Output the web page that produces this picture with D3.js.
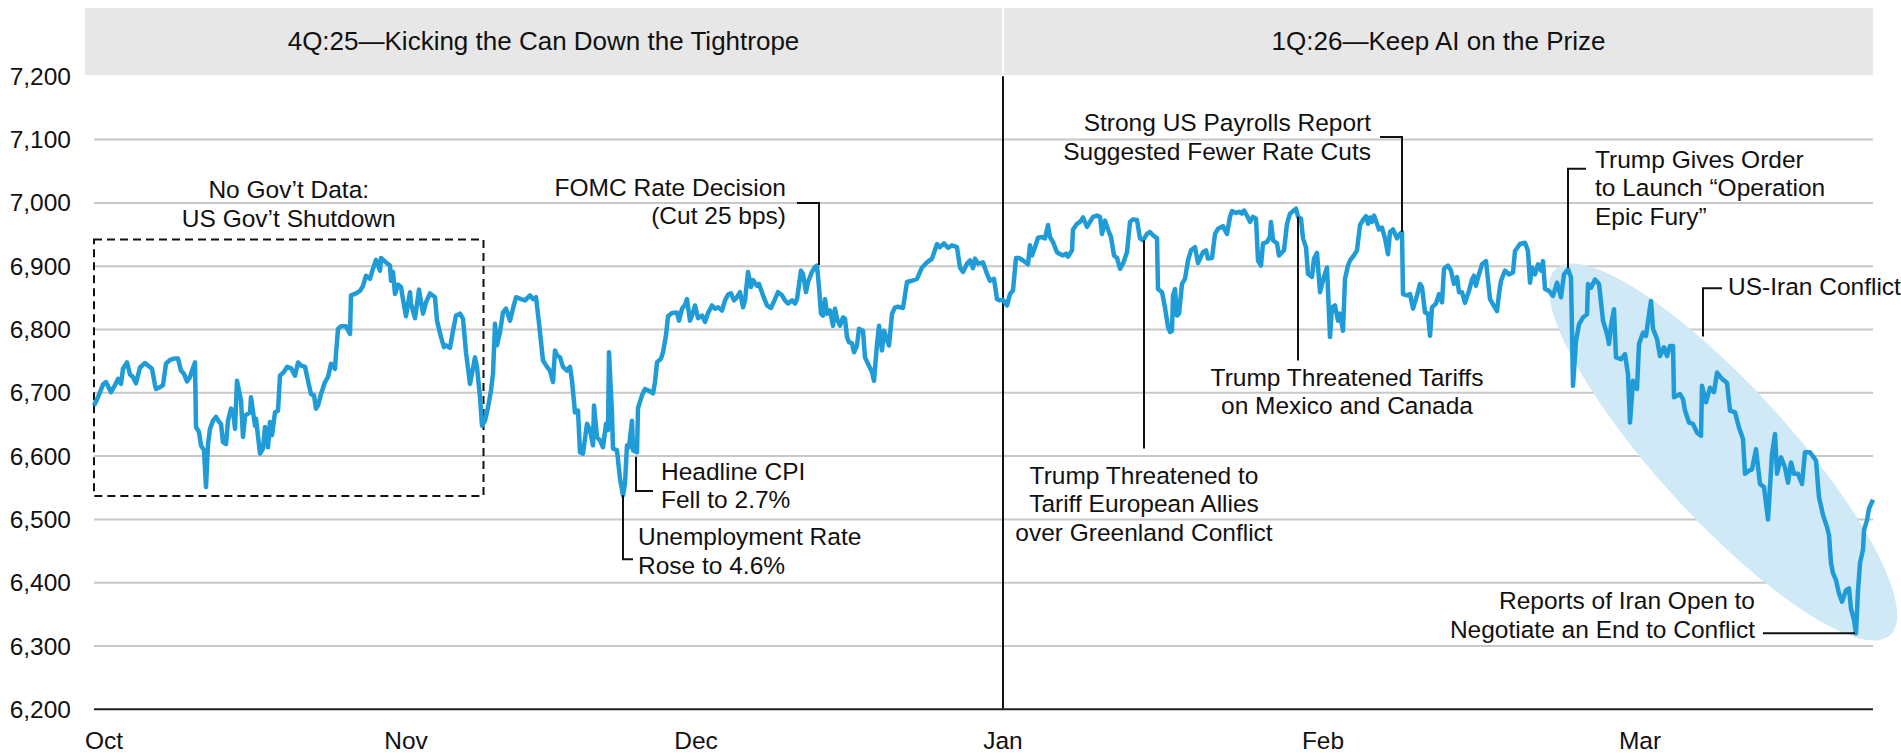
<!DOCTYPE html>
<html>
<head>
<meta charset="utf-8">
<script src="https://cdn.jsdelivr.net/npm/d3@7"></script>
<style>
  html, body { margin: 0; padding: 0; background: #fff; }
  svg { display: block; font-family: "Liberation Sans", Arial, sans-serif; }
</style>
</head>
<body>
<svg id="chart" width="1901" height="753"></svg>
<script>
// observation position (approx. days after 30 Sep 2025) and index level
const obsT = [
  0.0,0.4,0.9,1.2,1.7,2.1,2.4,2.7,2.9,3.3,3.6,3.9,4.2,4.6,5.1,5.4,5.8,6.1,6.2,6.6,6.9,7.2,7.6,8.0,8.4,8.7,9.0,9.3,9.6,9.8,
  10.1,10.2,10.5,10.7,11.0,11.2,11.4,11.6,11.9,12.2,12.5,12.7,12.9,13.2,13.4,13.7,13.9,14.1,14.3,14.7,14.9,15.1,15.6,15.7,16.1,16.2,16.6,16.9,17.1,17.4,
  17.6,17.8,18.1,18.4,18.6,19.0,19.3,19.7,20.1,20.4,20.7,21.1,21.4,21.7,22.0,22.2,22.4,22.7,23.1,23.4,23.7,24.1,24.2,24.4,24.7,25.2,25.6,25.7,26.2,26.6,
  26.9,27.2,27.6,27.9,28.2,28.6,28.7,29.2,29.6,29.7,29.9,30.1,30.4,30.7,31.0,31.2,31.6,31.7,32.1,32.5,32.9,33.2,33.6,34.1,34.3,34.7,35.0,35.2,35.6,35.9,
  36.2,36.6,36.9,37.2,37.6,37.7,38.1,38.3,38.6,38.8,39.1,39.4,39.7,39.9,40.1,40.3,40.6,40.9,41.2,41.6,41.9,42.2,42.7,43.1,43.6,43.9,44.2,44.5,44.9,45.3,
  45.6,45.9,46.1,46.3,46.6,46.9,47.3,47.6,47.8,48.1,48.4,48.6,48.9,49.3,49.6,49.9,50.0,50.3,50.6,50.9,51.2,51.4,51.5,51.8,51.9,52.3,52.6,52.9,53.1,53.3,
  53.5,53.8,53.9,54.3,54.4,54.8,55.1,55.4,55.9,56.1,56.3,56.7,56.9,57.2,57.4,57.8,58.3,58.5,58.8,59.1,59.3,59.6,59.9,60.1,60.4,60.8,61.1,61.4,61.8,62.1,
  62.4,62.8,63.1,63.4,63.7,64.0,64.3,64.6,64.9,65.1,65.4,65.7,65.9,66.3,66.5,66.9,67.3,67.7,68.1,68.4,68.8,69.1,69.4,69.8,70.1,70.3,70.7,70.9,71.2,71.4,
  71.8,72.1,72.3,72.5,72.7,72.9,73.1,73.3,73.6,73.9,74.1,74.3,74.6,74.9,75.1,75.3,75.5,75.8,76.0,76.3,76.5,76.9,77.1,77.4,77.8,78.0,78.3,78.5,78.8,79.0,
  79.3,79.5,79.8,80.1,80.4,80.9,81.3,81.8,82.3,82.8,83.3,83.8,84.3,84.6,85.0,85.4,85.8,86.3,86.6,86.9,87.3,87.6,87.9,88.1,88.4,88.9,89.3,89.6,90.0,90.3,
  90.6,90.9,91.3,91.6,91.9,92.2,92.5,92.9,93.4,93.6,93.8,94.1,94.4,94.8,95.1,95.4,95.6,95.9,96.3,96.6,96.9,97.2,97.4,97.8,97.9,98.3,98.6,98.9,99.3,99.6,
  99.9,100.3,100.6,100.8,101.1,101.4,101.7,102.0,102.3,102.6,102.9,103.3,103.6,103.9,104.3,104.6,104.9,105.3,105.6,105.9,106.3,106.4,106.8,107.1,107.4,107.6,107.8,107.9,108.1,108.3,
  108.5,108.8,109.1,109.4,109.7,110.1,110.4,110.6,110.9,111.2,111.4,111.8,112.1,112.4,112.9,113.3,113.6,113.8,114.2,114.5,114.8,115.0,115.3,115.6,115.9,116.2,116.4,116.7,116.9,117.3,
  117.6,117.7,117.9,118.3,118.5,118.8,119.0,119.3,119.6,119.9,120.2,120.4,120.7,120.9,121.2,121.4,121.8,122.0,122.3,122.6,122.9,123.3,123.6,123.8,124.1,124.4,124.6,124.9,125.1,125.4,
  125.6,125.9,126.3,126.6,126.9,127.2,127.4,127.6,127.8,128.0,128.3,128.5,128.8,129.1,129.4,129.6,129.9,130.3,130.6,130.8,130.9,131.3,131.6,131.9,132.3,132.6,132.8,133.1,133.4,133.6,
  133.8,134.2,134.5,134.8,135.0,135.4,135.7,136.0,136.3,136.5,136.8,137.1,137.5,137.8,138.0,138.2,138.4,138.8,139.2,139.6,140.0,140.3,140.5,140.7,141.1,141.5,141.9,142.1,142.6,143.1,
  143.4,143.6,143.8,144.1,144.4,144.7,144.9,145.1,145.5,145.9,146.3,146.7,147.0,147.4,147.7,147.9,148.2,148.5,148.9,149.3,149.4,149.7,150.1,150.5,150.9,151.3,151.5,151.7,152.0,152.2,
  152.7,153.1,153.4,153.6,153.9,154.3,154.5,154.9,155.2,155.5,155.7,155.9,156.3,156.6,157.0,157.3,157.6,157.9,158.0,158.6,158.9,159.1,159.5,159.9,160.3,160.7,160.8,161.2,161.6,162.0,
  162.3,162.8,163.3,163.6,164.1,164.5,164.9,165.1,165.5,165.8,166.2,166.6,167.0,167.4,167.8,168.1,168.3,168.7,169.1,169.4,169.7,170.0,170.4,170.8,171.1,171.6,172.2,172.5,172.9,173.3,
  173.5,173.7,173.9,174.2,174.5,174.8,175.2,175.5,175.7,176.0,176.2,176.4,176.6,176.9,177.0,177.3,177.5,177.9
];
const spx = [
  6680,6693,6713,6717,6701,6712,6722,6714,6738,6748,6729,6725,6715,6740,6747,6743,6738,6712,6706,6709,6712,6746,6752,6754,6754,6735,6730,6718,6725,6735,
  6748,6646,6638,6617,6609,6551,6619,6643,6656,6662,6654,6651,6622,6619,6656,6675,6672,6643,6719,6688,6630,6664,6669,6693,6648,6659,6604,6612,6646,6614,
  6654,6633,6669,6672,6727,6733,6741,6739,6727,6748,6743,6741,6719,6698,6696,6675,6680,6698,6717,6725,6746,6738,6762,6801,6805,6805,6793,6854,6857,6861,
  6869,6885,6880,6896,6910,6893,6913,6906,6901,6877,6891,6856,6871,6867,6838,6821,6859,6841,6818,6863,6825,6843,6857,6851,6814,6788,6772,6775,6771,6798,
  6822,6825,6817,6764,6714,6722,6756,6741,6693,6648,6656,6677,6704,6730,6809,6775,6796,6827,6833,6814,6833,6851,6848,6846,6854,6848,6851,6810,6751,6741,
  6735,6717,6767,6759,6756,6741,6735,6741,6719,6669,6672,6606,6604,6651,6641,6617,6680,6630,6625,6614,6651,6641,6764,6667,6612,6609,6564,6538,6557,6617,
  6614,6656,6609,6606,6676,6696,6706,6704,6699,6717,6748,6754,6764,6791,6821,6826,6827,6814,6833,6839,6848,6814,6827,6838,6818,6822,6812,6826,6838,6833,
  6835,6830,6846,6855,6857,6846,6851,6859,6835,6846,6891,6867,6878,6869,6872,6854,6838,6834,6848,6859,6854,6846,6841,6846,6841,6848,6893,6888,6859,6875,
  6891,6899,6901,6867,6825,6822,6848,6825,6830,6806,6833,6817,6806,6819,6817,6788,6780,6778,6764,6775,6801,6798,6756,6746,6733,6719,6777,6806,6767,6798,
  6783,6775,6825,6835,6836,6834,6875,6877,6880,6898,6906,6912,6935,6930,6936,6929,6933,6930,6898,6891,6904,6909,6897,6912,6904,6906,6888,6877,6880,6848,
  6846,6847,6838,6856,6862,6913,6913,6909,6903,6933,6917,6930,6945,6946,6944,6965,6946,6938,6922,6919,6917,6920,6915,6925,6958,6967,6970,6977,6962,6970,
  6978,6980,6978,6951,6972,6958,6946,6917,6913,6896,6904,6922,6970,6974,6973,6944,6941,6951,6954,6949,6944,6864,6859,6835,6804,6796,6798,6854,6864,6822,
  6825,6872,6880,6909,6925,6930,6905,6912,6922,6925,6912,6913,6951,6959,6963,6951,6978,6987,6984,6986,6983,6988,6980,6970,6978,6975,6909,6901,6936,6938,
  6947,6970,6941,6936,6917,6922,6925,6967,6983,6987,6991,6978,6975,6944,6930,6888,6883,6912,6921,6859,6878,6898,6788,6835,6838,6814,6825,6798,6880,6901,
  6909,6915,6925,6965,6973,6979,6967,6977,6970,6980,6967,6958,6961,6944,6919,6954,6958,6944,6951,6954,6856,6854,6856,6833,6854,6872,6867,6827,6825,6790,
  6835,6841,6856,6843,6896,6901,6893,6872,6883,6859,6859,6842,6861,6879,6885,6869,6882,6903,6908,6848,6837,6829,6856,6877,6893,6887,6890,6924,6935,6937,
  6924,6874,6898,6887,6903,6893,6908,6864,6861,6853,6874,6851,6887,6895,6882,6711,6782,6808,6819,6824,6872,6866,6879,6872,6814,6793,6777,6806,6832,6756,
  6753,6761,6729,6653,6719,6706,6777,6795,6790,6824,6845,6801,6785,6758,6772,6758,6774,6774,6693,6698,6690,6672,6653,6651,6637,6632,6711,6685,6708,6701,
  6732,6722,6716,6672,6669,6645,6627,6572,6577,6579,6611,6556,6551,6500,6603,6635,6572,6598,6582,6558,6590,6572,6572,6556,6606,6606,6593,6535,6507,6488,
  6475,6431,6415,6404,6383,6370,6388,6391,6359,6341,6320,6388,6431,6452,6483,6499,6517,6531
];

const yTicks = [6200, 6300, 6400, 6500, 6600, 6700, 6800, 6900, 7000, 7100, 7200];
const monthLabels = ["Oct", "Nov", "Dec", "Jan", "Feb", "Mar"];
const monthT = [1.0, 31.2, 60.2, 90.9, 122.9, 154.6];
const periodLabels = ["4Q:25\u2014Kicking the Can Down the Tightrope", "1Q:26\u2014Keep AI on the Prize"];
const periodStart = [-0.9, 90.9];
const periodEnd = [90.9, 177.9];

// annotations: leader path in data units, text offset (px) from the first path point
const notes = [
  { lines: ["FOMC Rate Decision", "(Cut 25 bps)"], path: [[70.3, 7000], [72.5, 7000], [72.5, 6902]], anchor: "end", dx: -11, dy: -7 },
  { lines: ["Headline CPI", "Fell to 2.7%"], path: [[55.9, 6545], [54.2, 6545], [54.2, 6599]], anchor: "start", dx: 8, dy: -11 },
  { lines: ["Unemployment Rate", "Rose to 4.6%"], path: [[53.9, 6437], [52.9, 6437], [52.9, 6538]], anchor: "start", dx: 5, dy: -14 },
  { lines: ["Trump Threatened to", "Tariff European Allies", "over Greenland Conflict"], path: [[105.0, 6612], [105.0, 6941]], anchor: "middle", dx: 0, dy: 35 },
  { lines: ["Trump Threatened Tariffs", "on Mexico and Canada"], path: [[120.4, 6751], [120.4, 6978]], anchor: "middle", dx: 49, dy: 25 },
  { lines: ["Strong US Payrolls Report", "Suggested Fewer Rate Cuts"], path: [[128.6, 7104], [130.8, 7104], [130.8, 6954]], anchor: "end", dx: -9, dy: -6 },
  { lines: ["Trump Gives Order", "to Launch \u201cOperation", "Epic Fury\u201d"], path: [[149.2, 7054], [147.4, 7054], [147.4, 6897]], anchor: "start", dx: 9, dy: -1 },
  { lines: ["US-Iran Conflict"], path: [[162.8, 6865], [160.9, 6865], [160.9, 6789]], anchor: "start", dx: 6, dy: 7 },
  { lines: ["Reports of Iran Open to", "Negotiate an End to Conflict"], path: [[166.9, 6320], [176.1, 6320]], anchor: "end", dx: -8, dy: -24 }
];

const svg = d3.select("#chart");
const x = d3.scaleLinear().domain([0, 177.9]).range([94, 1873]);
const y = d3.scaleLinear().domain([6200, 7200]).range([709.3, 76.3]);

const blue = "#1f9bd7";
const fontSize = 24.5;

// period header bands
const bands = svg.append("g");
periodLabels.forEach(function(label, i) {
  const x0 = x(periodStart[i]) + (i > 0 ? 1 : 0);
  const x1 = x(periodEnd[i]) - (i < periodLabels.length - 1 ? 1 : 0);
  bands.append("rect")
    .attr("x", x0).attr("y", 8)
    .attr("width", x1 - x0).attr("height", 67)
    .attr("fill", "#e7e7e7");
  bands.append("text")
    .attr("x", (x0 + x1) / 2).attr("y", 50)
    .attr("text-anchor", "middle")
    .attr("font-size", 26)
    .attr("fill", "#111")
    .text(label);
});

// gridlines
svg.append("g").selectAll("line")
  .data(yTicks.filter(d => d > 6200 && d < 7200))
  .join("line")
  .attr("x1", x(0)).attr("x2", x(177.9))
  .attr("y1", d => y(d)).attr("y2", d => y(d))
  .attr("stroke", "#c8c8c8").attr("stroke-width", 2);

// y labels
svg.append("g").selectAll("text")
  .data(yTicks)
  .join("text")
  .attr("x", 71).attr("y", d => y(d))
  .attr("dy", "0.35em")
  .attr("text-anchor", "end")
  .attr("font-size", fontSize)
  .attr("fill", "#111")
  .text(d => d3.format(",")(d));

// x labels
svg.append("g").selectAll("text")
  .data(monthLabels)
  .join("text")
  .attr("x", (d, i) => x(monthT[i]))
  .attr("y", 749)
  .attr("text-anchor", "middle")
  .attr("font-size", fontSize)
  .attr("fill", "#111")
  .text(d => d);

// highlight ellipse around the March sell-off
const ex = x(162.9), ey = y(6606.5);
svg.append("ellipse")
  .attr("cx", ex).attr("cy", ey)
  .attr("rx", 248).attr("ry", 66)
  .attr("transform", "rotate(47.6," + ex + "," + ey + ")")
  .attr("fill", "#cfe9f6");

// shutdown box
svg.append("rect")
  .attr("x", x(0)).attr("y", y(6942))
  .attr("width", x(38.95) - x(0)).attr("height", y(6537) - y(6942))
  .attr("fill", "none")
  .attr("stroke", "#111").attr("stroke-width", 2)
  .attr("stroke-dasharray", "8,5");
svg.append("text")
  .attr("x", (x(0) + x(38.95)) / 2).attr("y", y(6942))
  .attr("text-anchor", "middle")
  .attr("font-size", fontSize).attr("fill", "#111")
  .selectAll("tspan")
  .data(["No Gov\u2019t Data:", "US Gov\u2019t Shutdown"])
  .join("tspan")
  .attr("x", (x(0) + x(38.95)) / 2)
  .attr("dy", (d, i) => i === 0 ? -42 : 29.5)
  .text(d => d);

// year divider
svg.append("line")
  .attr("x1", x(90.9)).attr("x2", x(90.9))
  .attr("y1", y(7200)).attr("y2", y(6200))
  .attr("stroke", "#111").attr("stroke-width", 2);

// index line
const line = d3.line()
  .x(i => x(obsT[i]))
  .y(i => y(spx[i]));
svg.append("path")
  .attr("d", line(d3.range(spx.length)))
  .attr("fill", "none")
  .attr("stroke", blue)
  .attr("stroke-width", 4.5)
  .attr("stroke-linejoin", "round");

// bottom axis line
svg.append("line")
  .attr("x1", x(0)).attr("x2", x(177.9))
  .attr("y1", y(6200)).attr("y2", y(6200))
  .attr("stroke", "#222").attr("stroke-width", 2);

// annotations
const leader = d3.line().x(d => x(d[0])).y(d => y(d[1]));
notes.forEach(function(n) {
  svg.append("path")
    .attr("d", leader(n.path))
    .attr("fill", "none")
    .attr("stroke", "#111").attr("stroke-width", 2);
  const tx = x(n.path[0][0]) + n.dx;
  const ty = y(n.path[0][1]) + n.dy;
  svg.append("text")
    .attr("x", tx).attr("y", ty)
    .attr("text-anchor", n.anchor)
    .attr("font-size", fontSize).attr("fill", "#111")
    .selectAll("tspan")
    .data(n.lines)
    .join("tspan")
    .attr("x", tx)
    .attr("dy", (d, i) => i === 0 ? 0 : 28.5)
    .text(d => d);
});
</script>
</body>
</html>
